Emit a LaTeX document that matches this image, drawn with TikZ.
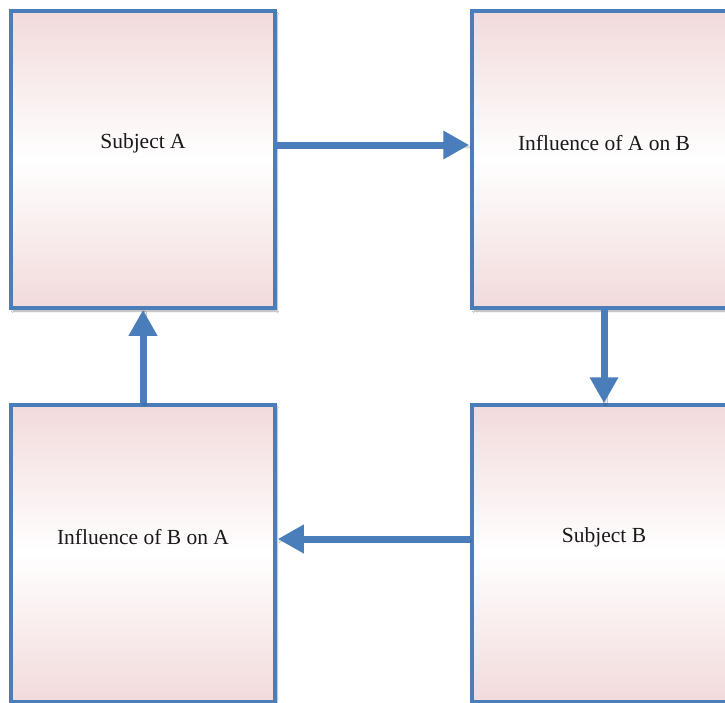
\documentclass[tikz,border=0pt]{standalone}
\usepackage{fontspec}
\setmainfont{Liberation Serif}
\usetikzlibrary{arrows.meta,shadows.blur}
\definecolor{boxblue}{RGB}{74,126,187}
\definecolor{boxpink}{RGB}{242,218,219}
\tikzset{
  box/.style={rectangle, draw=boxblue, line width=3.5pt, minimum width=264pt, minimum height=297pt, inner sep=0pt,
    top color=boxpink, bottom color=boxpink, middle color=white,
    blur shadow={shadow xshift=2pt, shadow yshift=-3pt, shadow blur steps=6, shadow opacity=35}},
  lbl/.style={font=\fontsize{21.5}{26}\selectfont, text=black!90},
  conn/.style={draw=boxblue, line width=7pt, -{Triangle[length=26pt,width=27pt]},
    blur shadow={shadow xshift=1.5pt, shadow yshift=-2pt, shadow opacity=30}}
}
\begin{document}
\begin{tikzpicture}[x=1pt,y=-1pt]
\useasboundingbox (0,0) rectangle (725,702);
\clip (0,0) rectangle (725,702);
\fill[white] (0,0) rectangle (725,702);
\node[box] (sa) at (143,159.5) {};
\node[box] (iab) at (604,159.5) {};
\node[box] (iba) at (143,553.5) {};
\node[box] (sb) at (604,553.5) {};
\node[lbl] (tsa) at (143,143) {Subject A};
\node[lbl] (tiab) at (604,143) {Influence of A on B};
\node[lbl] (tiba) at (143,537) {Influence of B on A};
\node[lbl] (tsb) at (604,537) {Subject B};
\draw[conn] ([yshift=14.5pt]sa.east) -- ([yshift=14.5pt,xshift=-1pt]iab.west);
\draw[conn] (iab.south) -- (sb.north);
\draw[conn] ([yshift=14.5pt]sb.west) -- ([yshift=14.5pt,xshift=1pt]iba.east);
\draw[conn] (iba.north) -- (sa.south);
\end{tikzpicture}
\end{document}
